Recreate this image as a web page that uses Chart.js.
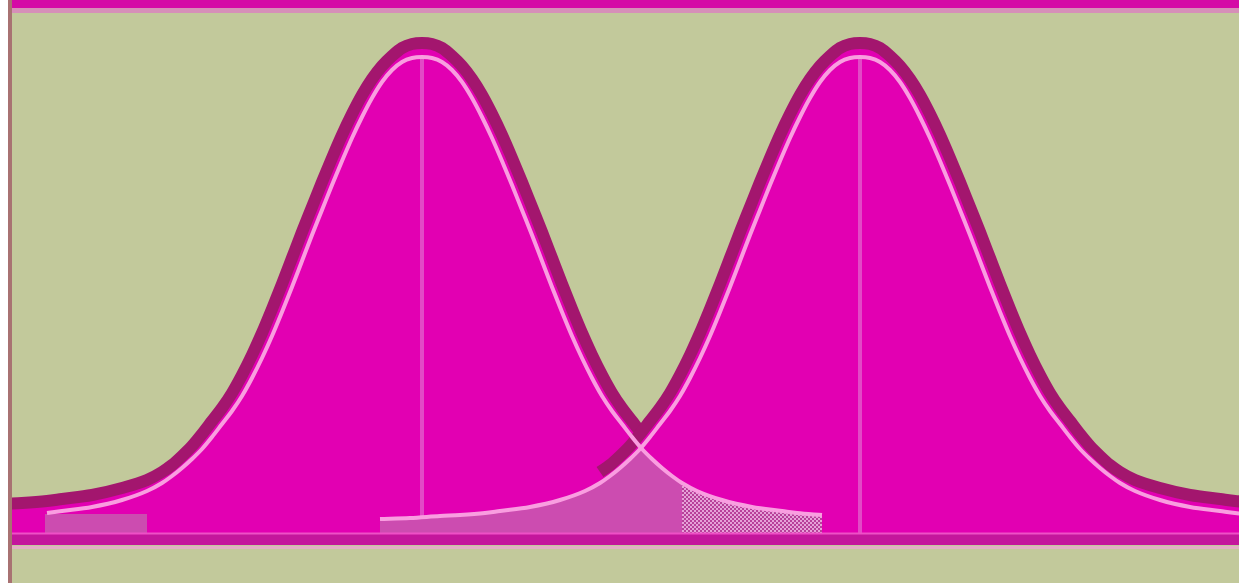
<!DOCTYPE html>
<html>
<head>
<meta charset="utf-8">
<script src="https://cdn.jsdelivr.net/npm/chart.js@4.4.1/dist/chart.umd.min.js"></script>
<style>
  html, body { margin: 0; padding: 0; background: #ffffff; }
  #frame {
    position: absolute; left: 8px; top: 0; width: 1231px; height: 583px;
    background: #c2c99b; box-sizing: border-box; border-left: 4px solid #a87272;
  }
  #topBar { position: absolute; left: 0; top: 0; width: 100%; height: 8px; background: #d50aa6; }
  #topEdge { position: absolute; left: 0; top: 8px; width: 100%; height: 5px; background: #d68fb8; }
  #chart { position: absolute; left: 12px; top: 14px; }
</style>
</head>
<body>
<div id="frame">
  <div id="topBar"></div>
  <div id="topEdge"></div>
</div>
<canvas id="chart" width="1227" height="569"></canvas>
<script>
// distance from the mean (x units) and curve heights
const profileOffsets = [0, 1, 2, 3, 4, 5, 6, 7, 8, 9, 10, 11, 12, 13, 14, 15, 16, 17, 18, 19, 20,
                        21, 22, 23, 24, 25, 26, 27.5, 30, 33, 36, 37.5, 40, 42, 45, 48];
const lineHeights    = [95.6, 95.4, 94.6, 93.0, 90.6, 87.4, 83.6, 79.4, 74.8, 70.0, 65.0,
                        60.0, 54.8, 49.6, 44.6, 39.8, 35.4, 31.4, 27.8, 24.8, 22.2,
                        19.6, 17.2, 15.2, 13.4, 11.8, 10.4, 8.8, 7.0, 5.6, 4.8, 4.4, 4.0, 3.8, 3.4, 3.2];
const rimHeights     = [98.4, 98.2, 97.4, 95.8, 93.8, 91.2, 88.0, 84.2, 80.0, 75.4, 70.6,
                        65.6, 60.6, 55.4, 50.2, 45.2, 40.4, 36.0, 32.0, 28.4, 25.4,
                        22.8, 20.2, 17.8, 15.8, 14.0, 12.6, 11.0, 9.4, 8.0, 7.2, 6.8, 6.4, 6.2, 5.8, 5.6];
const means = [41.0, 84.8];
const xRange = [0, 122.7];
const yRange = [-9.6, 104.2];

// pieces of each curve (offset from its mean)
const lineSpans    = [[-37.5, 40], [-48, 48]];
const rimSpans     = [[-48, 48], [-26, 48]];
const overlapLeft  = [-48, -22];      // curve 2 part of the overlap
const overlapRight = [22, 26];        // curve 1 part of the overlap
const checkTail    = [26, 40];        // hatched tail of curve 1
const leftShade    = { from: 3.3, to: 13.5, top: 4.2 };

const baseBand = -0.8, baseGlow = 0.3, baseEdge = -2.5;

function curve(mean, heights, span) {
    const pts = [];
    for (let i = profileOffsets.length - 1; i >= 0; i--) {
        const d = -profileOffsets[i];
        if (d >= span[0] && d <= span[1] && d !== 0) pts.push({ x: mean + d, y: heights[i] });
    }
    for (let i = 0; i < profileOffsets.length; i++) {
        const d = profileOffsets[i];
        if (d >= span[0] && d <= span[1]) pts.push({ x: mean + d, y: heights[i] });
    }
    return pts;
}

function hline(y, x0, x1) {
    return [{ x: x0, y: y }, { x: x1, y: y }];
}

const checker = (() => {
    const c = document.createElement("canvas");
    c.width = 4; c.height = 4;
    const g = c.getContext("2d");
    g.fillStyle = "#e6a2d8"; g.fillRect(0, 0, 4, 4);
    g.fillStyle = "#b8409a"; g.fillRect(0, 0, 2, 2); g.fillRect(2, 2, 2, 2);
    return g.createPattern(c, "repeat");
})();

const layers = [
    { data: curve(means[0], rimHeights, rimSpans[0]), fill: "origin", backgroundColor: "#e200b2", borderColor: "#a3166e", borderWidth: 12 },
    { data: [{ x: means[0], y: 0 }, { x: means[0], y: lineHeights[0] }], borderColor: "#e24ac6", borderWidth: 4 },
    { data: curve(means[1], rimHeights, rimSpans[1]), fill: "origin", backgroundColor: "#e200b2", borderColor: "#a3166e", borderWidth: 12 },
    { data: [{ x: means[1], y: 0 }, { x: means[1], y: lineHeights[0] }], borderColor: "#e24ac6", borderWidth: 4 },
    { data: curve(means[1], lineHeights, overlapLeft).concat(curve(means[0], lineHeights, overlapRight)),
      fill: "origin", backgroundColor: "#cc4cb0", borderWidth: 0 },
    { data: curve(means[0], lineHeights, checkTail), fill: "origin", backgroundColor: checker, borderWidth: 0 },
    { data: hline(leftShade.top, leftShade.from, leftShade.to), fill: "origin", backgroundColor: "#cc4cb0", borderWidth: 0 },
    { data: curve(means[0], lineHeights, lineSpans[0]), borderColor: "#f99ee0", borderWidth: 4 },
    { data: curve(means[1], lineHeights, lineSpans[1]), borderColor: "#f99ee0", borderWidth: 4 },
    { data: hline(baseBand, xRange[0], xRange[1]), borderColor: "#c4169c", borderWidth: 12 },
    { data: hline(baseGlow, xRange[0], xRange[1]), borderColor: "#ee50c6", borderWidth: 2 },
    { data: hline(baseEdge, xRange[0], xRange[1]), borderColor: "#e2b0c4", borderWidth: 3 }
];

const datasets = layers.map((l, i) => Object.assign({
    fill: false,
    pointRadius: 0,
    cubicInterpolationMode: "monotone",
    borderCapStyle: "butt",
    order: 100 - i
}, l));

new Chart(document.getElementById("chart").getContext("2d"), {
    type: "line",
    data: { datasets: datasets },
    options: {
        responsive: false,
        animation: false,
        devicePixelRatio: 1,
        layout: { padding: 0 },
        plugins: { legend: { display: false }, tooltip: { enabled: false } },
        scales: {
            x: { type: "linear", min: xRange[0], max: xRange[1], display: false },
            y: { type: "linear", min: yRange[0], max: yRange[1], display: false }
        }
    }
});
</script>
</body>
</html>
